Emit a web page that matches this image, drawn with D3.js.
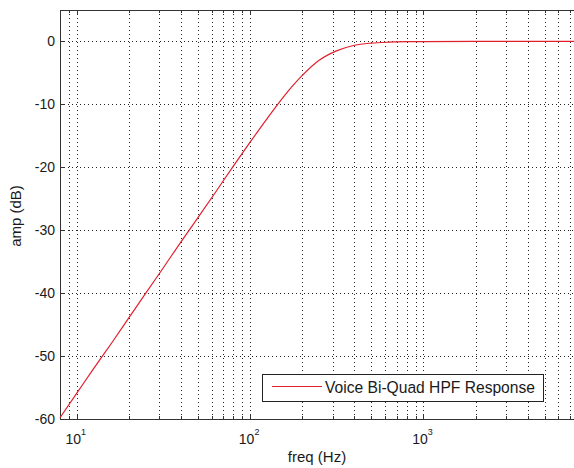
<!DOCTYPE html>
<html>
<head>
<meta charset="utf-8">
<script src="https://cdn.jsdelivr.net/npm/d3@7"></script>
<style>
  body { margin: 0; padding: 0; background: #fff; }
  svg text { font-family: "Liberation Sans", Arial, sans-serif; fill: #1a1a1a; }
</style>
</head>
<body>
<script>
// values (freq in Hz, amplitude in dB)
const freqs = [8, 10, 12.5, 16, 20, 25, 31.5, 40, 50, 63, 80, 100, 125, 160, 200, 250, 315, 400, 500, 630, 800, 1000, 2000, 4000, 8000]
const amps = [-59.8, -55.9, -52.0, -47.8, -43.9, -40.0, -36.0, -31.8, -28.0, -24.0, -19.8, -16.0, -12.3, -8.4, -5.4, -3.0, -1.5, -0.6, -0.26, -0.11, -0.04, -0.02, 0, 0, 0]
const yTicks = [-60, -50, -40, -30, -20, -10, 0]
const decades = [1, 2, 3]
const legendLabel = "Voice Bi-Quad HPF Response"

const width = 574
const height = 468
const mLeft = 60, mTop = 10, mRight = 580, mBottom = 419

const svg = d3.select('body').append('svg')
  .attr("width", width)
  .attr("height", height)

const x = d3.scaleLog().domain([8, 8000]).range([mLeft, mRight])
const y = d3.scaleLinear().domain([-60, 5]).range([mBottom, mTop])

// minor + major positions on the log axis
const xGrid = []
decades.forEach(d => {
  for (let m = 1; m < 10; m++) xGrid.push(m * Math.pow(10, d - 1))
})
xGrid.push(1000, 2000, 3000, 4000, 5000, 6000, 7000, 8000)
const gridFreqs = Array.from(new Set(xGrid)).filter(f => f >= 8 && f <= 8000)

const grid = svg.append("g")
  .attr("stroke", "#222")
  .attr("stroke-width", 1)
  .attr("stroke-dasharray", "1,3")

grid.selectAll("line.vx")
  .data(gridFreqs)
  .join("line")
  .attr("x1", d => Math.round(x(d)) + 0.5)
  .attr("x2", d => Math.round(x(d)) + 0.5)
  .attr("y1", mTop)
  .attr("y2", mBottom)

grid.selectAll("line.hy")
  .data(yTicks)
  .join("line")
  .attr("x1", mLeft)
  .attr("x2", mRight)
  .attr("y1", d => Math.round(y(d)) + 0.5)
  .attr("y2", d => Math.round(y(d)) + 0.5)

// axes box + inner ticks
const axis = svg.append("g").attr("stroke", "#333").attr("stroke-width", 1)

axis.append("rect")
  .attr("x", mLeft + 0.5)
  .attr("y", mTop + 0.5)
  .attr("width", mRight - mLeft)
  .attr("height", mBottom - mTop)
  .attr("fill", "none")

const isMajor = f => Math.abs(Math.log10(f) - Math.round(Math.log10(f))) < 1e-9

axis.selectAll("line.tb")
  .data(gridFreqs)
  .join("line")
  .attr("x1", d => Math.round(x(d)) + 0.5)
  .attr("x2", d => Math.round(x(d)) + 0.5)
  .attr("y1", mBottom)
  .attr("y2", d => mBottom - (isMajor(d) ? 5 : 3))

axis.selectAll("line.tt")
  .data(gridFreqs)
  .join("line")
  .attr("x1", d => Math.round(x(d)) + 0.5)
  .attr("x2", d => Math.round(x(d)) + 0.5)
  .attr("y1", mTop)
  .attr("y2", d => mTop + (isMajor(d) ? 5 : 3))

axis.selectAll("line.ty")
  .data(yTicks)
  .join("line")
  .attr("x1", mLeft)
  .attr("x2", mLeft + 5)
  .attr("y1", d => Math.round(y(d)) + 0.5)
  .attr("y2", d => Math.round(y(d)) + 0.5)

// tick labels
svg.append("g").selectAll("text")
  .data(yTicks)
  .join("text")
  .attr("x", mLeft - 5)
  .attr("y", d => y(d) + 5)
  .attr("text-anchor", "end")
  .attr("font-size", 14)
  .text(d => d)

const xl = svg.append("g").selectAll("text")
  .data(decades)
  .join("text")
  .attr("x", d => x(Math.pow(10, d)) - 1)
  .attr("y", 444)
  .attr("text-anchor", "middle")
  .attr("font-size", 14)
xl.append("tspan").text("10")
xl.append("tspan").attr("dy", -9).attr("font-size", 9).text(d => d)

// axis titles
svg.append("text")
  .attr("x", 317)
  .attr("y", 462)
  .attr("text-anchor", "middle")
  .attr("font-size", 15)
  .text("freq (Hz)")

svg.append("text")
  .attr("transform", "translate(21,216) rotate(-90)")
  .attr("text-anchor", "middle")
  .attr("font-size", 15)
  .text("amp (dB)")

// response curve
const pts = freqs.map((f, i) => [f, amps[i]])
const line = d3.line()
  .x(d => x(d[0]))
  .y(d => y(d[1]))
  .curve(d3.curveMonotoneX)

svg.append("path")
  .datum(pts)
  .attr("fill", "none")
  .attr("stroke", "#e0202c")
  .attr("stroke-width", 1.2)
  .attr("d", line)

// legend
const lg = svg.append("g")
lg.append("rect")
  .attr("x", 262.5)
  .attr("y", 374.5)
  .attr("width", 281)
  .attr("height", 27)
  .attr("fill", "#fff")
  .attr("stroke", "#222")
lg.append("line")
  .attr("x1", 272)
  .attr("x2", 322)
  .attr("y1", 386.5)
  .attr("y2", 386.5)
  .attr("stroke", "#e0202c")
  .attr("stroke-width", 1.2)
const lt = lg.append("text")
  .attr("x", 325)
  .attr("y", 393)
  .attr("font-size", 14)
  .text(legendLabel)
const w = lt.node().getComputedTextLength()
if (w) lt.attr("font-size", 14 * 210 / w)
</script>
</body>
</html>
